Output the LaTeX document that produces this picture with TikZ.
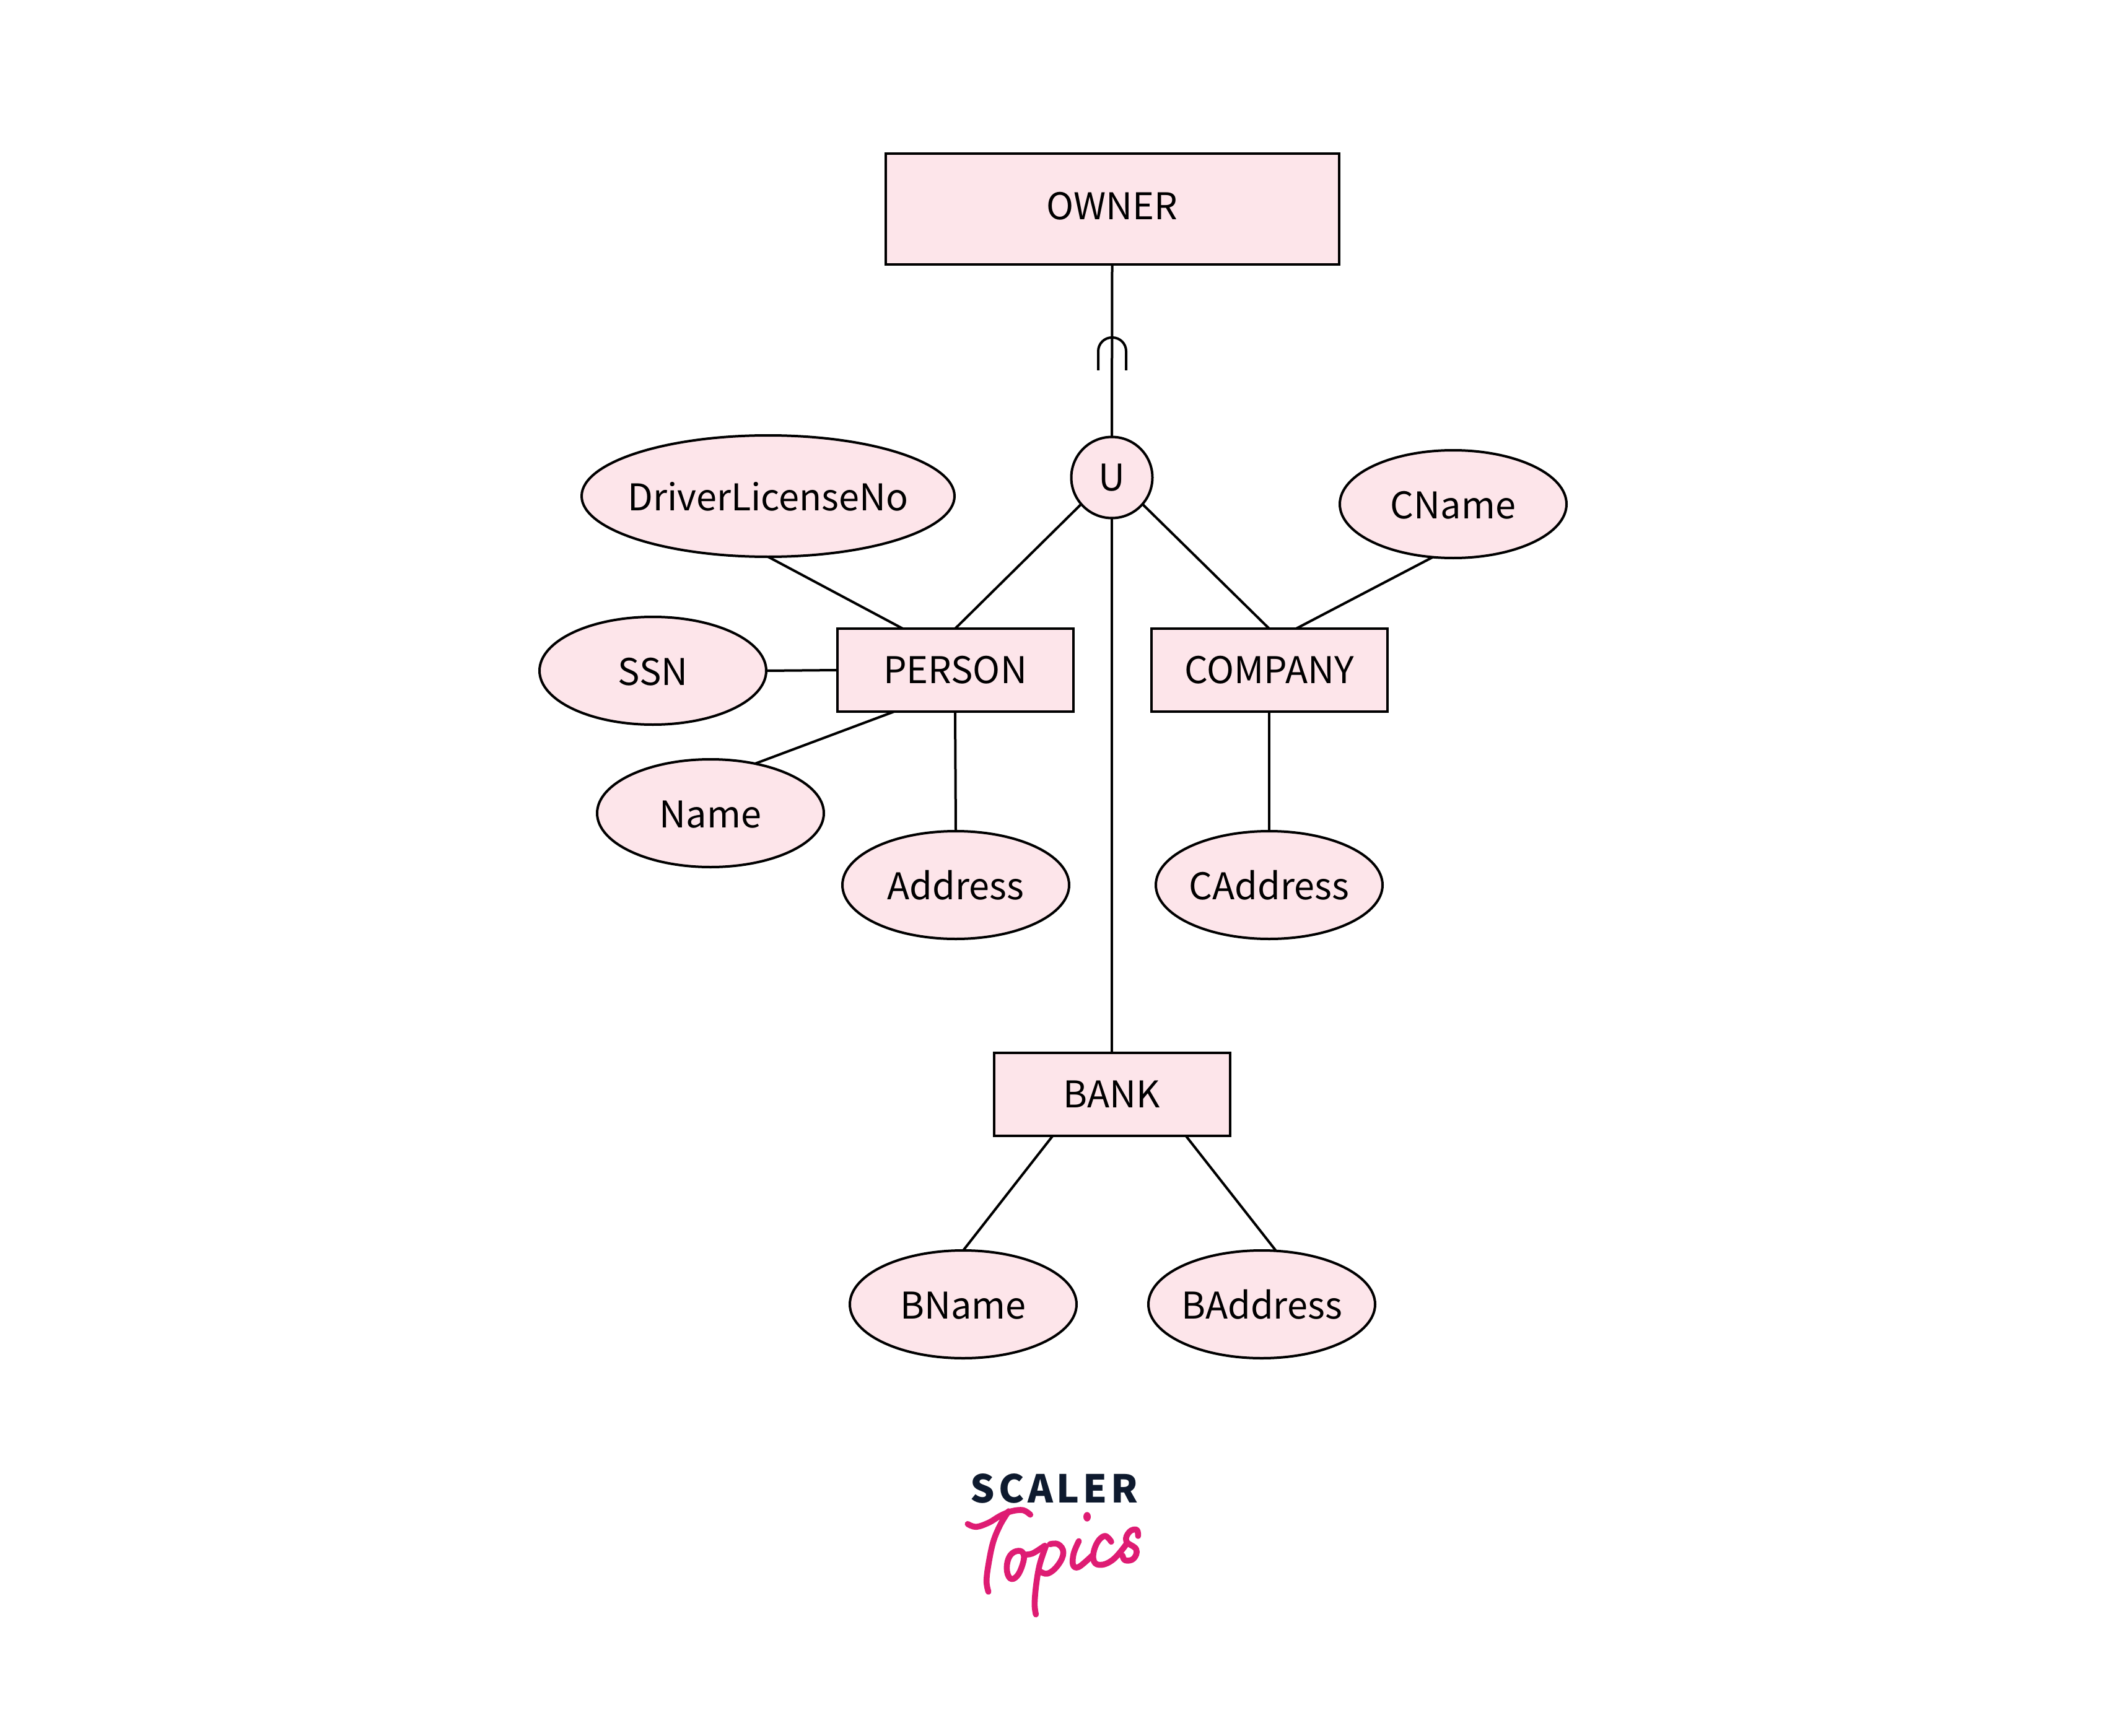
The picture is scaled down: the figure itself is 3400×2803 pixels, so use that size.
\documentclass[tikz,border=0pt]{standalone}
\usepackage{fontspec}
\setmainfont{Noto Sans CJK SC}
\newfontfamily\logofont[LetterSpace=9.2]{Noto Sans CJK SC}
\usetikzlibrary{shapes.geometric}
\definecolor{boxpink}{HTML}{FDE5EA}
\definecolor{logonavy}{HTML}{0E1A2E}
\definecolor{logopink}{HTML}{DE1C73}
\newcommand{\lbl}[2][-11.8pt]{\raisebox{#1}[0pt][0pt]{\makebox[0pt][c]{#2}}}
\tikzset{
  x=0.5pt,y=-0.5pt,
  shape base/.style={draw=black,line width=2pt,fill=boxpink,inner sep=0pt,outer sep=0pt,text=black,font=\fontsize{29.7}{36}\selectfont},
  bigbox/.style={shape base,rectangle,minimum width=366pt,minimum height=89.5pt},
  entbox/.style={shape base,rectangle,minimum width=190.5pt,minimum height=67pt},
  attr/.style={shape base,ellipse,minimum width=183pt,minimum height=87pt},
  wideattr/.style={shape base,ellipse,minimum width=301pt,minimum height=98pt},
  unioncirc/.style={shape base,circle,minimum size=65.5pt},
  link/.style={draw=black,line width=2pt},
  logostroke/.style={draw=logopink,line width=4.8pt,line cap=round,line join=round}
}
\begin{document}
\begin{tikzpicture}
\useasboundingbox (0,0) rectangle (3400,2803);
\node[bigbox] (owner) at (1795.5,337.5) {\lbl[-8.5pt]{OWNER}};
\node[unioncirc] (u) at (1795,771) {\lbl[-10.8pt]{U}};
\node[entbox] (person) at (1542,1082) {PERSON};
\node[entbox] (company) at (2049,1082) {COMPANY};
\node[entbox] (bank) at (1795,1767) {BANK};
\node[wideattr] (dl) at (1240,801) {\lbl{DriverLicenseNo}};
\node[attr] (ssn) at (1054,1083) {\lbl{SSN}};
\node[attr] (name) at (1147,1313) {\lbl{Name}};
\node[attr] (address) at (1543,1429) {\lbl{Address}};
\node[attr] (caddress) at (2049,1429) {\lbl{CAddress}};
\node[attr] (cname) at (2346,814) {\lbl{CName}};
\node[attr] (bname) at (1555,2106) {\lbl{BName}};
\node[attr] (baddress) at (2037,2106) {\lbl{BAddress}};
\draw[link] (owner.south) -- (u.north);
\draw[link] (u.south) -- (bank.north);
\draw[link] (u.221) -- (person.north);
\draw[link] (u.-41) -- (company.north);
\draw[link] (dl.south) -- ([xshift=53pt]person.north west);
\draw[link] (ssn.east) -- (person.west);
\draw[link] (name.48) -- ([xshift=46pt]person.south west);
\draw[link] (person.south) -- (address.north);
\draw[link] (company.south) -- (caddress.north);
\draw[link] ([xshift=117pt]company.north west) -- (cname.-111);
\draw[link] ([xshift=47.5pt]bank.south west) -- (bname.north);
\draw[link] ([xshift=155pt]bank.south west) -- (baddress.75);
\draw[link,rounded corners=11pt] (1773,598) -- (1773,545) -- (1818,545) -- (1818,598);
% logo
\node[inner sep=0pt,text=logonavy,font=\logofont\bfseries\fontsize{31}{36}\selectfont] (scaler) at (1702,2403) {SCALER};
\begin{scope}[xshift=750pt,yshift=-1165pt,x=0.16667pt,y=-0.16667pt]
\draw[logostroke] plot[smooth,tension=0.6] coordinates {(187,392) (228,406) (290,385) (345,352) (400,330) (455,325) (490,347)};
\draw[logostroke] plot[smooth,tension=0.6] coordinates {(385,330) (345,395) (310,480) (287,590) (278,670) (287,720)};
\draw[logostroke] plot[smooth cycle,tension=0.7] coordinates {(432,522) (392,545) (376,605) (392,655) (425,645) (452,590) (458,540)};
\draw[logostroke] plot[smooth,tension=0.6] coordinates {(458,540) (500,535) (560,497)};
\draw[logostroke] plot[smooth,tension=0.6] coordinates {(565,500) (535,590) (518,690) (511,780) (517,830)};
\draw[logostroke] plot[smooth,tension=0.7] coordinates {(535,620) (575,632) (625,590) (650,530) (625,490) (585,490)};
\draw[logostroke] plot[smooth,tension=0.6] coordinates {(725,475) (700,535) (697,590) (725,600) (790,545)};
\draw[logostroke] plot[smooth,tension=0.7] coordinates {(882,478) (850,450) (810,490) (795,560) (825,590) (890,565) (955,490)};
\draw[logostroke] plot[smooth,tension=0.7] coordinates {(1012,450) (1005,420) (970,430) (955,475) (1003,515) (990,560) (950,568) (937,545)};
\fill[logopink] (765,357) ellipse [x radius=18,y radius=23];
\end{scope}
\end{tikzpicture}
\end{document}
